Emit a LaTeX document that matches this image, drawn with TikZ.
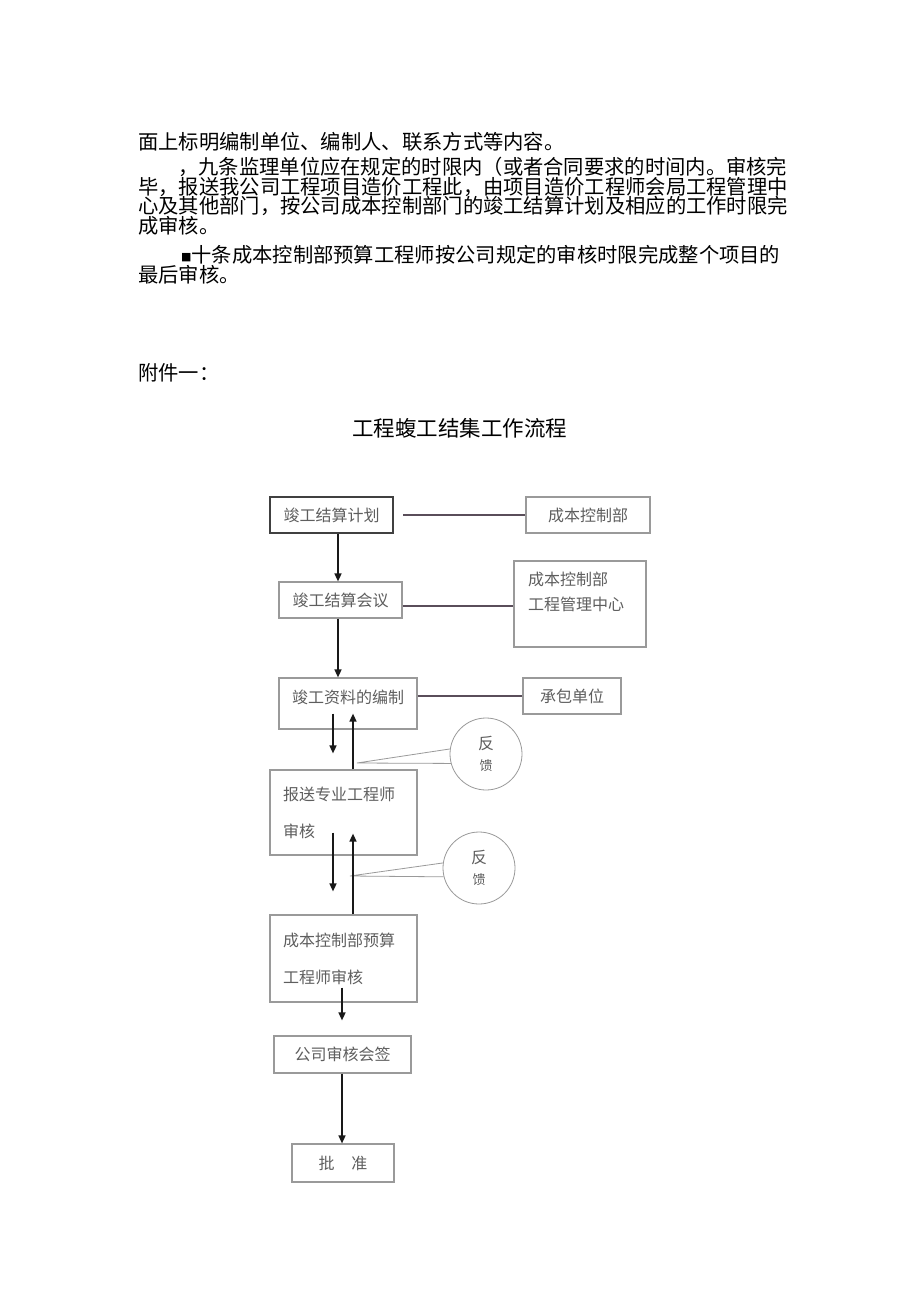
\documentclass[tikz,border=0pt]{standalone}
\usepackage{fontspec}
\usetikzlibrary{arrows.meta}
\newfontfamily\cjk{Noto Sans CJK SC}
\newfontfamily\dejavu{DejaVu Sans}
\definecolor{boxgray}{HTML}{9A9A9A}
\definecolor{txtgray}{HTML}{5E5E5E}
\definecolor{linkgray}{HTML}{5A4E5A}

\begin{document}
\begin{tikzpicture}[x=1pt,y=-1pt,
  para/.style={anchor=west,inner sep=0pt,font=\cjk\fontsize{20.3}{24}\selectfont},
  box/.style={draw=boxgray,line width=1.2pt,text=txtgray,inner sep=0pt,font=\cjk\fontsize{16}{20}\selectfont},
  tallbox/.style={box,text width=121pt,align=left,font=\cjk\fontsize{16}{37}\selectfont},
  bubble/.style={circle,draw=boxgray,line width=0.8pt,minimum size=72pt,inner sep=0pt,text=txtgray,align=center,font=\cjk\fontsize{16}{21}\selectfont},
  arr/.style={line width=1.5pt,draw=black!90,-{Triangle[length=8pt,width=7pt]}},
  link/.style={line width=1.5pt,draw=linkgray},
  tail/.style={line width=0.8pt,draw=boxgray}]
\fill[white] (0,0) rectangle (920,1301);
\useasboundingbox (0,0) rectangle (920,1301);

% text of the page
\node[para] (l1) at (138,142) {面上标明编制单位、编制人、联系方式等内容。};
\node[para] (l2) at (178,167) {，九条监理单位应在规定的时限内（或者合同要求的时间内。审核完};
\node[para] (l3) at (138,187) {毕，报送我公司工程项目造价工程此，由项目造价工程师会局工程管理中};
\node[para] (l4) at (138,206) {心及其他部门，按公司成本控制部门的竣工结算计划及相应的工作时限完};
\node[para] (l5) at (138,226) {成审核。};
\node[para] (l6) at (181,255) {{\dejavu\fontsize{11}{11}\selectfont\raisebox{2.5pt}{■}}十条成本控制部预算工程师按公司规定的审核时限完成整个项目的};
\node[para] (l7) at (138,275) {最后审核。};
\node[para] (annex) at (138,373) {附件一：};
\node[font=\cjk\fontsize{21.5}{24}\selectfont] (title) at (459.5,428) {工程蝮工结集工作流程};

% boxes
\node[box,line width=2pt,draw=black!75,minimum width=123pt,minimum height=36pt] (plan) at (331.5,515) {竣工结算计划};
\node[box,minimum width=124pt,minimum height=36pt] (cost) at (588,515) {成本控制部};
\node[box,minimum width=123pt,minimum height=36pt] (meet) at (340.5,600) {竣工结算会议};
\node[box,minimum width=132pt,minimum height=86pt] (dept) at (580,604) {};
\node[anchor=north west,inner sep=0pt,align=left,text=txtgray,font=\cjk\fontsize{16}{25}\selectfont] (deptlbl) at (528,572) {成本控制部\\工程管理中心};
\node[box,minimum width=138pt,minimum height=51pt,text height=14pt,text depth=15pt] (docs) at (348,703.5) {竣工资料的编制};
\node[box,minimum width=98pt,minimum height=36pt] (contr) at (572,696) {承包单位};
\node[tallbox,minimum width=147pt,minimum height=85pt] (rev) at (343.5,812.5) {报送专业工程师\\审核};
\node[tallbox,minimum width=147pt,minimum height=87pt] (budg) at (343.5,958.5) {成本控制部预算\\工程师审核};
\node[box,minimum width=137pt,minimum height=37pt] (sign) at (342.5,1054.5) {公司审核会签};
\node[box,minimum width=102pt,minimum height=38pt] (appr) at (343,1163) {批\hspace{17pt}准};

% feedback bubbles
\node[bubble] (fb1) at (486,754) {反\\{\fontsize{13}{13}\selectfont 馈}};
\node[bubble] (fb2) at (479,868) {反\\{\fontsize{13}{13}\selectfont 馈}};
\coordinate (tip1) at (357,763);
\coordinate (tip2) at (350,876);
\draw[tail] (fb1.172) -- (tip1) -- (fb1.195);
\draw[tail] (fb2.172) -- (tip2) -- (fb2.194);

% links
\draw[link] ([xshift=9pt]plan.east) -- (cost.west);
\draw[link] ([yshift=-6pt]meet.east) -- ([yshift=-6pt]meet.east -| dept.west);
\draw[link] (contr.west -| docs.east) -- (contr.west);

% arrows
\draw[arr] ([xshift=6.5pt]plan.south) -- ([xshift=6.5pt]plan.south |- meet.north);
\draw[arr] ([xshift=-2.5pt]meet.south) -- ([xshift=-2.5pt]meet.south |- docs.north);
\draw[arr] ([xshift=-15pt,yshift=16pt]docs.south) -- ([xshift=-15pt,yshift=16pt]docs.south |- rev.north);
\draw[arr] ([xshift=9.5pt]rev.north) -- ([xshift=5pt,yshift=16pt]docs.south);
\draw[arr] ([xshift=-10.5pt,yshift=23pt]rev.south) -- ([xshift=-10.5pt,yshift=23pt]rev.south |- budg.north);
\draw[arr] ([xshift=9.5pt]budg.north) -- ([xshift=9.5pt,yshift=22pt]rev.south);
\draw[arr] ([xshift=-1.5pt,yshift=15pt]budg.south) -- ([xshift=-1.5pt,yshift=15pt]budg.south |- sign.north);
\draw[arr] ([xshift=-0.5pt]sign.south) -- ([xshift=-0.5pt]sign.south |- appr.north);
\end{tikzpicture}
\end{document}
